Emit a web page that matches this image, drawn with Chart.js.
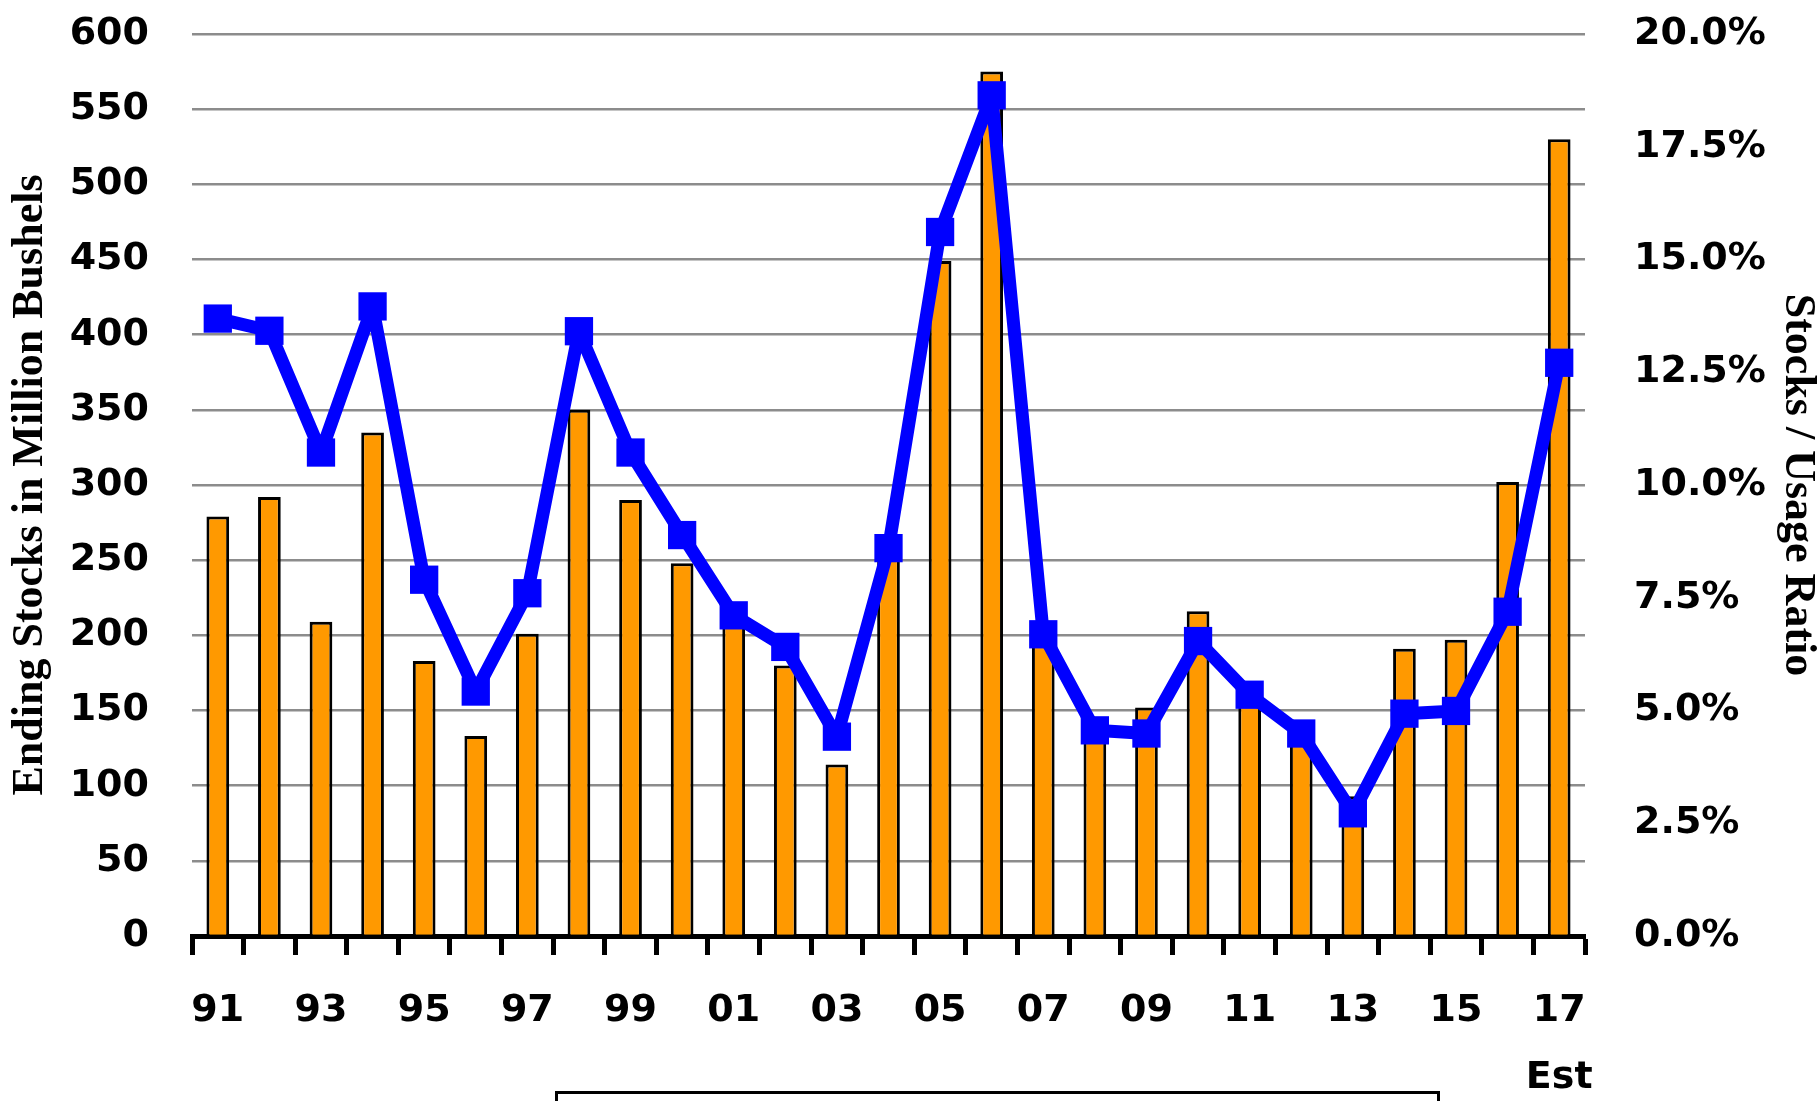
<!DOCTYPE html>
<html>
<head>
<meta charset="utf-8">
<script src="https://cdn.jsdelivr.net/npm/chart.js@4.4.1/dist/chart.umd.min.js"></script>
<style>
  html, body { margin: 0; padding: 0; background: #ffffff; }
  #wrap { position: relative; width: 1820px; height: 1101px; overflow: hidden; background: #ffffff; }
  #legendFrame { position: absolute; left: 555px; top: 1091px; width: 885px; height: 30px; border: 3px solid #000; box-sizing: border-box; }
</style>
</head>
<body>
<div id="wrap">
  <canvas id="c"></canvas>
  <div id="legendFrame"></div>
</div>
<script>
// Marketing years (two-digit), last one is an estimate
const categories = ['91','92','93','94','95','96','97','98','99','00','01','02','03','04','05','06','07','08','09','10','11','12','13','14','15','16','17'];
const estimateNote = 'Est';

// Ending stocks, million bushels (left axis)
const endingStocks = [279, 292, 209, 335, 183, 133, 201, 350, 290, 248, 210, 180, 114, 256, 449, 575, 205, 138, 152, 216, 167, 140, 93, 191, 197, 302, 530];

// Stocks / usage ratio, percent (right axis)
const stocksToUse = [13.69, 13.42, 10.72, 13.96, 7.90, 5.42, 7.60, 13.41, 10.72, 8.89, 7.11, 6.41, 4.42, 8.60, 15.61, 18.64, 6.69, 4.56, 4.49, 6.54, 5.35, 4.49, 2.72, 4.93, 4.99, 7.19, 12.71];

// Axis ranges
const leftAxis = { min: 0, max: 600, step: 50, title: 'Ending Stocks in Million Bushels' };
const rightAxis = { min: 0, max: 20, step: 2.5, title: 'Stocks / Usage Ratio' };

const tickFont = { family: 'DejaVu Sans', weight: 'bold', size: 38 };

new Chart(document.getElementById('c'), {
  data: {
    labels: categories,
    datasets: [
      {
        type: 'line',
        label: rightAxis.title,
        data: stocksToUse,
        yAxisID: 'y1',
        borderColor: '#0000FF',
        backgroundColor: '#0000FF',
        borderWidth: 13,
        borderJoinStyle: 'round',
        pointStyle: 'rect',
        pointRadius: 20,
        pointHoverRadius: 20,
        pointBackgroundColor: '#0000FF',
        pointBorderColor: '#0000FF',
        pointBorderWidth: 0,
        tension: 0,
        clip: false,
        order: 0
      },
      {
        type: 'bar',
        label: 'Ending Stocks',
        data: endingStocks,
        yAxisID: 'y',
        backgroundColor: '#FF9900',
        borderColor: '#000000',
        borderWidth: 3,
        barPercentage: 0.44,
        categoryPercentage: 1.0,
        order: 1
      }
    ]
  },
  options: {
    responsive: true,
    maintainAspectRatio: false,
    animation: false,
    layout: { padding: { top: 34, left: 0, right: 0, bottom: 0 } },
    plugins: { legend: { display: false }, tooltip: { enabled: false } },
    scales: {
      x: {
        position: 'bottom',
        offset: true,
        grid: { offset: true, drawOnChartArea: false, drawTicks: true, tickLength: 19, tickWidth: 5, tickColor: '#000000' },
        border: { display: true, color: '#000000', width: 5 },
        ticks: {
          autoSkip: false, maxRotation: 0, minRotation: 0, padding: 23, color: '#000000',
          font: Object.assign({}, tickFont, { lineHeight: 1.75 }),
          callback: function (value, index) {
            if (index % 2 !== 0) return '';
            const lab = categories[index];
            return index === categories.length - 1 ? [lab, estimateNote] : lab;
          }
        },
        afterFit: function (s) { s.height = 165; }
      },
      y: {
        position: 'left',
        min: leftAxis.min, max: leftAxis.max,
        ticks: { stepSize: leftAxis.step, autoSkip: false, padding: 43, color: '#000000', font: tickFont },
        grid: { color: '#8c8c8c', lineWidth: 2.5, drawTicks: false },
        border: { display: false },
        title: {
          display: true, text: leftAxis.title, color: '#000000',
          font: { family: 'Liberation Serif', weight: 'bold', size: 44, lineHeight: 1.2 },
          padding: { top: 4, bottom: 0 }
        },
        afterFit: function (s) { s.width = 192; s.paddingTop = 0; s.paddingBottom = 0; }
      },
      y1: {
        position: 'right',
        min: rightAxis.min, max: rightAxis.max,
        ticks: {
          stepSize: rightAxis.step, autoSkip: false, padding: 49, color: '#000000', font: tickFont,
          callback: function (v) { return Number(v).toFixed(1) + '%'; }
        },
        grid: { display: false, drawOnChartArea: false, drawTicks: false },
        border: { display: false },
        title: {
          display: true, text: rightAxis.title, color: '#000000',
          font: { family: 'Liberation Serif', weight: 'bold', size: 44, lineHeight: 1.0 },
          padding: { top: 1, bottom: 0 }
        },
        afterFit: function (s) { s.width = 235; s.paddingTop = 0; s.paddingBottom = 0; }
      }
    }
  }
});
</script>
</body>
</html>
